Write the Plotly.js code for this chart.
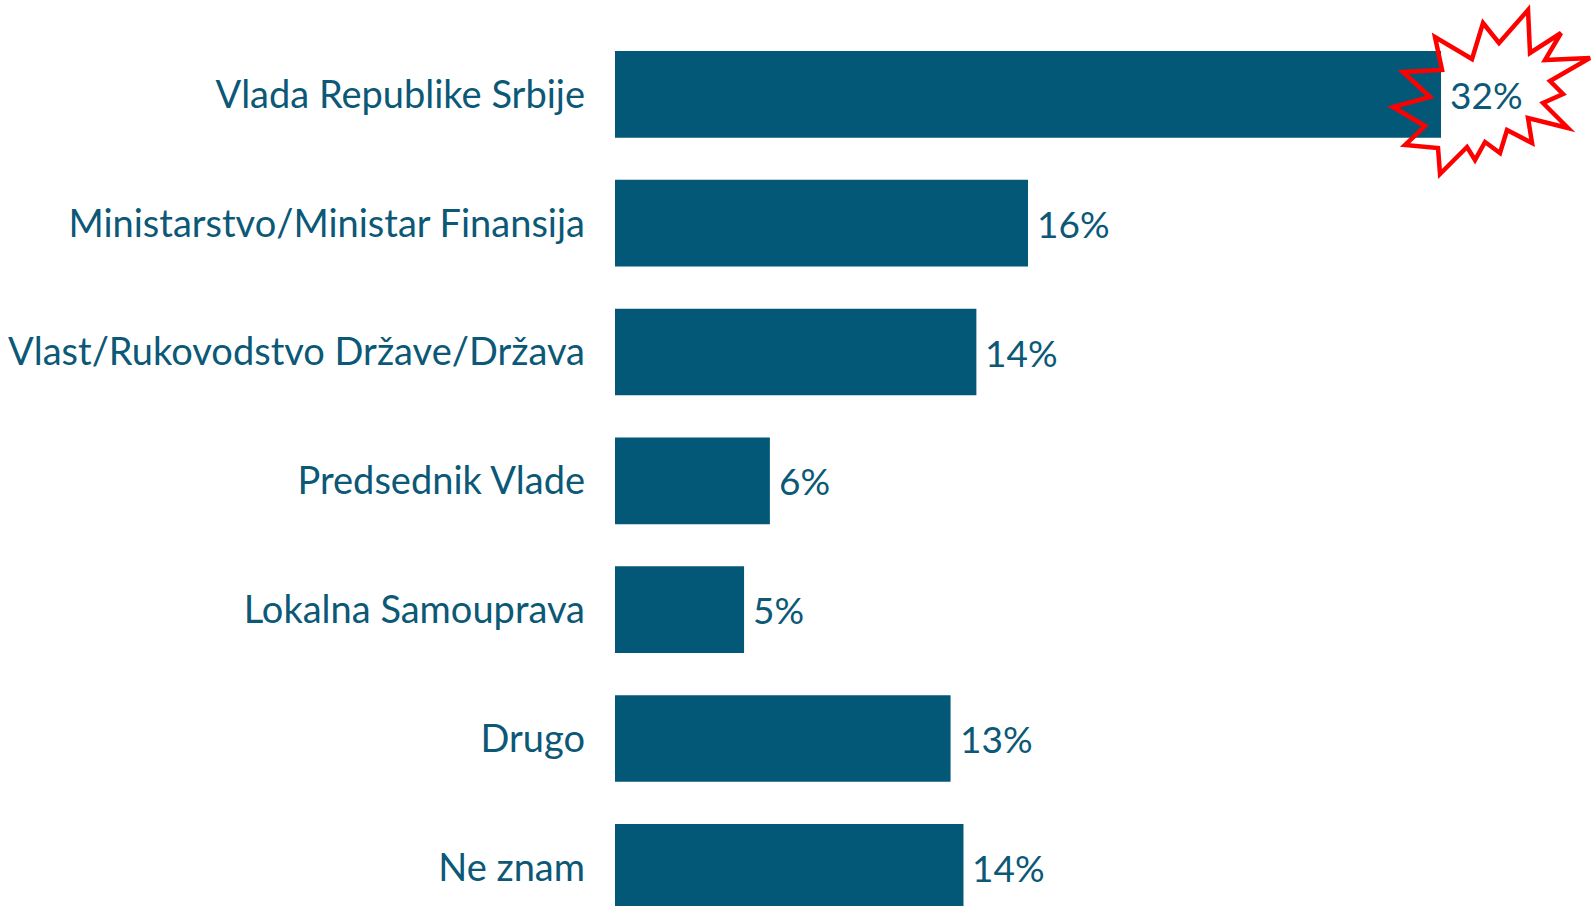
<!DOCTYPE html>
<html><head><meta charset="utf-8">
<script src="https://cdn.plot.ly/plotly-3.0.1.min.js"></script>
<style>html,body{margin:0;padding:0;background:#fff}#chart{width:1591px;height:906px}</style>
</head><body><div id="chart"></div>
<script>
const categories = ["Vlada Republike Srbije", "Ministarstvo/Ministar Finansija", "Vlast/Rukovodstvo Države/Država", "Predsednik Vlade", "Lokalna Samouprava", "Drugo", "Ne znam"];
const values = [32, 16, 14, 6, 5, 13, 13.5];
const valueLabels = ["32%", "16%", "14%", "6%", "5%", "13%", "14%"];
const highlightIndex = 0;

const barColor = "#035877";
const textColor = "#0B5877";
const fontFamily = "Lato, 'Open Sans', sans-serif";

// starburst outline (pixel offsets around the highlighted value's bar end; y up)
const starPts = [[42,71.35],[58,51.35],[87,84.35],[89,41.35],[120,61.35],[104,34.35],[149,36.35],[109,13.35],[122,0.35],[102,-8.65],[127,-33.65],[87,-23.65],[91,-48.65],[66,-35.65],[59,-58.65],[44,-47.65],[34,-65.65],[26,-52.65],[-1,-79.65],[-3,-53.65],[-36,-50.65],[-16,-31.65],[-48,-12.65],[-11,-2.65],[-38,22.35],[1,24.35],[-6,57.35],[31,35.35]];
const starPath = "M" + starPts.map(p => p[0] + "," + p[1]).join("L") + "Z";

const trace = {
  type: "bar",
  orientation: "h",
  x: values,
  y: categories,
  marker: {color: barColor},
  width: 0.673,
  hoverinfo: "none"
};

const annotations = values.map((v, i) => ({
  x: v, y: categories[i], xref: "x", yref: "y",
  text: valueLabels[i], showarrow: false,
  xanchor: "left", yanchor: "middle", xshift: 7,
  font: {family: fontFamily, size: 37, color: textColor}
}));

const layout = {
  width: 1591, height: 906,
  margin: {l: 615, r: 0, t: 0, b: 0, pad: 0},
  paper_bgcolor: "#fff", plot_bgcolor: "#fff",
  showlegend: false,
  xaxis: {range: [0, 37.81], visible: false, fixedrange: true},
  yaxis: {
    type: "category", range: [6.300, -0.7324],
    showgrid: false, zeroline: false, showline: false, ticks: "",
    ticklabelstandoff: 29,
    tickfont: {family: fontFamily, size: 38, color: textColor},
    fixedrange: true
  },
  annotations: annotations,
  shapes: [{
    type: "path", layer: "above",
    xref: "x", yref: "y",
    xsizemode: "pixel", ysizemode: "pixel",
    xanchor: values[highlightIndex], yanchor: categories[highlightIndex],
    path: starPath,
    line: {color: "#FF0000", width: 4.5},
    fillcolor: "rgba(0,0,0,0)"
  }]
};

Plotly.newPlot("chart", [trace], layout, {displayModeBar: false, staticPlot: true});
</script>
</body></html>
